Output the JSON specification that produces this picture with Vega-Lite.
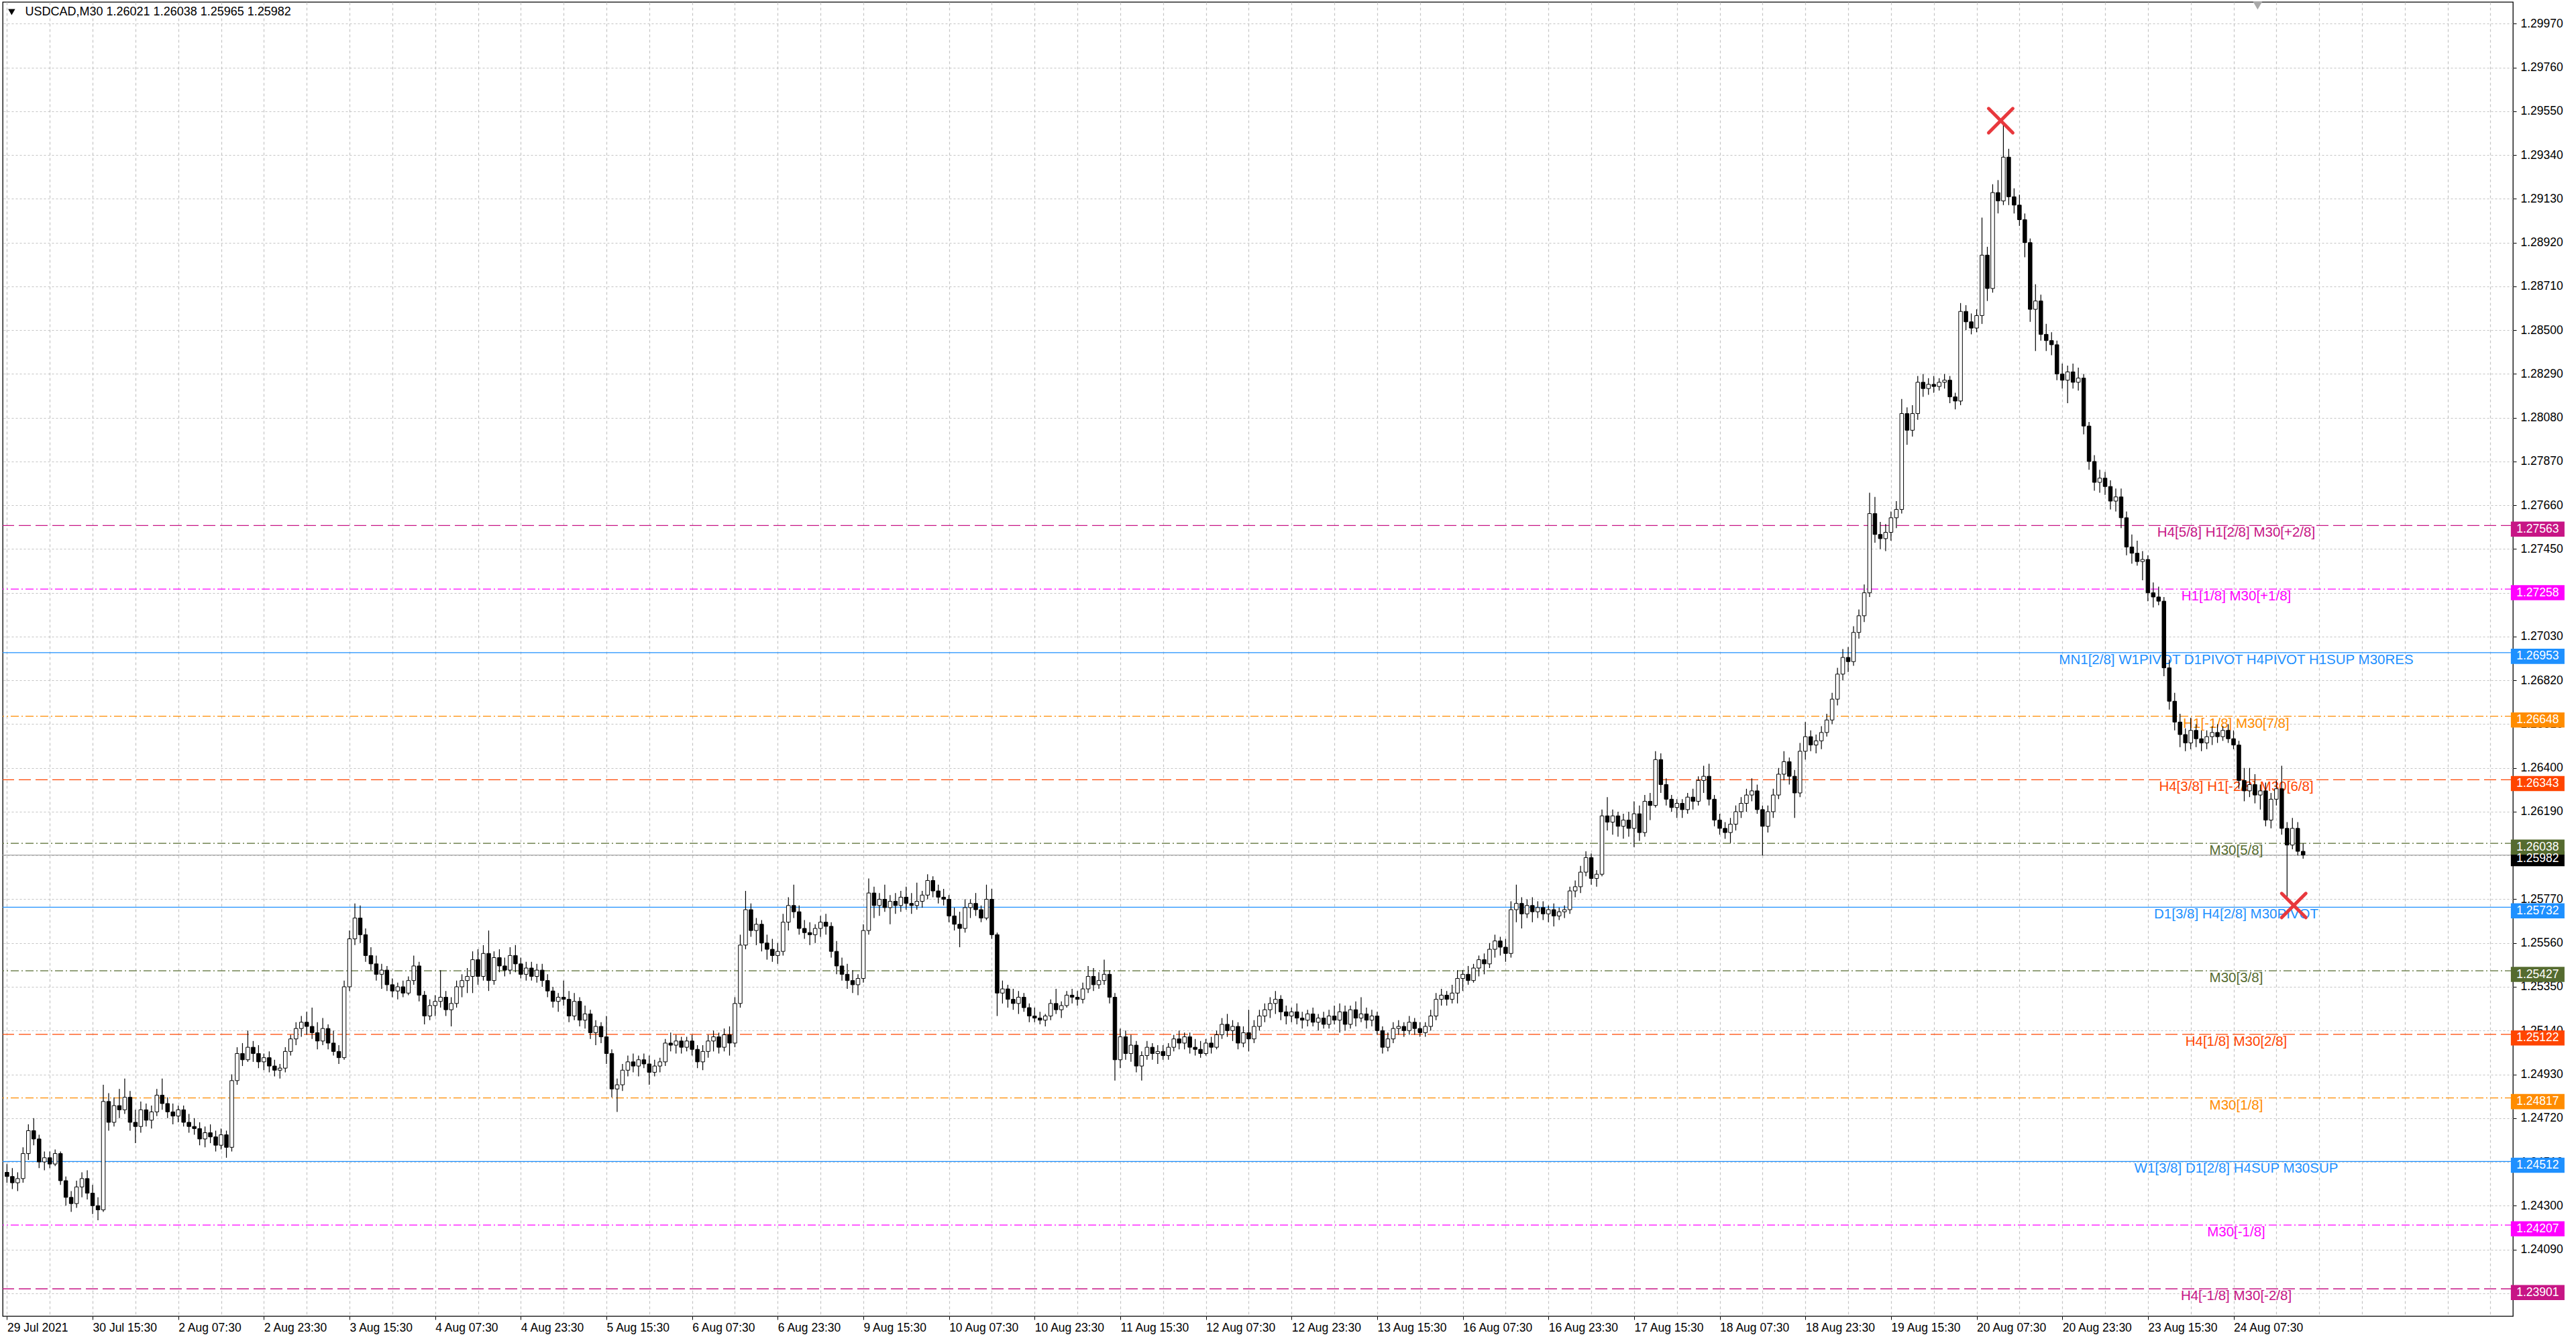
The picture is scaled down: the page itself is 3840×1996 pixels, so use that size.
{
"$schema":"https://vega.github.io/schema/vega-lite/v6.json",
"width":3742,"height":1959,
"autosize":{"type":"none"},
"padding":{"left":4,"top":3,"right":94,"bottom":34},
"background":"white",
"resolve":{"axis":{"x":"independent","y":"independent"}},
"config":{"view":{"stroke":"#000","strokeWidth":1.3},"axis":{"labelFont":"Liberation Sans","labelFontSize":17.5,"labelColor":"#000","tickColor":"#000"},"text":{"font":"Liberation Sans"}},
"datasets":{
"levels":[
{"p":1.25982,"g":"bid","t":""},
{"p":1.27563,"g":"mm2","t":"H4[5/8] H1[2/8] M30[+2/8]"},
{"p":1.27258,"g":"mm1","t":"H1[1/8] M30[+1/8]"},
{"p":1.26953,"g":"major","t":"MN1[2/8] W1PIVOT D1PIVOT H4PIVOT H1SUP M30RES"},
{"p":1.26648,"g":"m7","t":"H1[-1/8] M30[7/8]"},
{"p":1.26343,"g":"m6","t":"H4[3/8] H1[-2/8] M30[6/8]"},
{"p":1.26038,"g":"m5","t":"M30[5/8]"},
{"p":1.25732,"g":"major","t":"D1[3/8] H4[2/8] M30PIVOT"},
{"p":1.25427,"g":"m5","t":"M30[3/8]"},
{"p":1.25122,"g":"m6","t":"H4[1/8] M30[2/8]"},
{"p":1.24817,"g":"m7","t":"M30[1/8]"},
{"p":1.24512,"g":"major","t":"W1[3/8] D1[2/8] H4SUP M30SUP"},
{"p":1.24207,"g":"mm1","t":"M30[-1/8]"},
{"p":1.23901,"g":"mm2","t":"H4[-1/8] M30[-2/8]"}
],
"bars":[
{"i":0,"o":1.2446,"h":1.2450,"l":1.2441,"c":1.2444},
{"i":2,"o":1.2444,"h":1.2448,"l":1.2438,"c":1.2441},
{"i":4,"o":1.2441,"h":1.2446,"l":1.2437,"c":1.2443},
{"i":6,"o":1.2443,"h":1.2458,"l":1.2441,"c":1.2455},
{"i":8,"o":1.2455,"h":1.2469,"l":1.2452,"c":1.2466},
{"i":10,"o":1.2466,"h":1.2472,"l":1.2459,"c":1.2462},
{"i":12,"o":1.2462,"h":1.2464,"l":1.2448,"c":1.2451},
{"i":14,"o":1.2451,"h":1.2456,"l":1.2447,"c":1.2453},
{"i":16,"o":1.2453,"h":1.2456,"l":1.2448,"c":1.2450},
{"i":18,"o":1.2450,"h":1.2457,"l":1.2449,"c":1.2455},
{"i":20,"o":1.2455,"h":1.2456,"l":1.2440,"c":1.2442},
{"i":22,"o":1.2442,"h":1.2444,"l":1.2430,"c":1.2434},
{"i":24,"o":1.2434,"h":1.2437,"l":1.2427,"c":1.2431},
{"i":26,"o":1.2431,"h":1.2442,"l":1.2429,"c":1.2439},
{"i":28,"o":1.2439,"h":1.2446,"l":1.2434,"c":1.2443},
{"i":30,"o":1.2443,"h":1.2447,"l":1.2433,"c":1.2436},
{"i":32,"o":1.2436,"h":1.2440,"l":1.2426,"c":1.2430},
{"i":34,"o":1.2430,"h":1.2434,"l":1.2423,"c":1.2428},
{"i":36,"o":1.2428,"h":1.2488,"l":1.2427,"c":1.2480},
{"i":38,"o":1.2480,"h":1.2484,"l":1.2466,"c":1.2470},
{"i":40,"o":1.2470,"h":1.2482,"l":1.2468,"c":1.2478},
{"i":42,"o":1.2478,"h":1.2486,"l":1.2472,"c":1.2476},
{"i":44,"o":1.2476,"h":1.2491,"l":1.2474,"c":1.2482},
{"i":46,"o":1.2482,"h":1.2485,"l":1.2466,"c":1.2470},
{"i":48,"o":1.2470,"h":1.2476,"l":1.2460,"c":1.2468},
{"i":50,"o":1.2468,"h":1.2480,"l":1.2465,"c":1.2476},
{"i":52,"o":1.2476,"h":1.2479,"l":1.2468,"c":1.2471},
{"i":54,"o":1.2471,"h":1.2478,"l":1.2467,"c":1.2475},
{"i":56,"o":1.2475,"h":1.2486,"l":1.2473,"c":1.2483},
{"i":58,"o":1.2483,"h":1.2491,"l":1.2476,"c":1.2479},
{"i":60,"o":1.2479,"h":1.2482,"l":1.2472,"c":1.2475},
{"i":62,"o":1.2475,"h":1.2479,"l":1.2469,"c":1.2473},
{"i":64,"o":1.2473,"h":1.2478,"l":1.2470,"c":1.2476},
{"i":66,"o":1.2476,"h":1.2478,"l":1.2468,"c":1.2470},
{"i":68,"o":1.2470,"h":1.2474,"l":1.2465,"c":1.2468},
{"i":70,"o":1.2468,"h":1.2472,"l":1.2464,"c":1.2467},
{"i":72,"o":1.2467,"h":1.2470,"l":1.2459,"c":1.2462},
{"i":74,"o":1.2462,"h":1.2468,"l":1.2458,"c":1.2465},
{"i":76,"o":1.2465,"h":1.2469,"l":1.2460,"c":1.2463},
{"i":78,"o":1.2463,"h":1.2466,"l":1.2456,"c":1.2459},
{"i":80,"o":1.2459,"h":1.2467,"l":1.2457,"c":1.2464},
{"i":82,"o":1.2464,"h":1.2466,"l":1.2453,"c":1.2458},
{"i":84,"o":1.2458,"h":1.2493,"l":1.2456,"c":1.2490},
{"i":86,"o":1.2490,"h":1.2506,"l":1.2488,"c":1.2503},
{"i":88,"o":1.2503,"h":1.2508,"l":1.2497,"c":1.2500},
{"i":90,"o":1.2500,"h":1.2514,"l":1.2499,"c":1.2506},
{"i":92,"o":1.2506,"h":1.2509,"l":1.2499,"c":1.2503},
{"i":94,"o":1.2503,"h":1.2507,"l":1.2496,"c":1.2499},
{"i":96,"o":1.2499,"h":1.2503,"l":1.2495,"c":1.2501},
{"i":98,"o":1.2501,"h":1.2504,"l":1.2494,"c":1.2497},
{"i":100,"o":1.2497,"h":1.2500,"l":1.2492,"c":1.2495},
{"i":102,"o":1.2495,"h":1.2498,"l":1.2491,"c":1.2496},
{"i":104,"o":1.2496,"h":1.2506,"l":1.2494,"c":1.2504},
{"i":106,"o":1.2504,"h":1.2512,"l":1.2502,"c":1.2510},
{"i":108,"o":1.2510,"h":1.2518,"l":1.2507,"c":1.2515},
{"i":110,"o":1.2515,"h":1.2521,"l":1.2511,"c":1.2518},
{"i":112,"o":1.2518,"h":1.2523,"l":1.2512,"c":1.2516},
{"i":114,"o":1.2516,"h":1.2525,"l":1.2510,"c":1.2513},
{"i":116,"o":1.2513,"h":1.2518,"l":1.2505,"c":1.2509},
{"i":118,"o":1.2509,"h":1.2520,"l":1.2507,"c":1.2515},
{"i":120,"o":1.2515,"h":1.2517,"l":1.2505,"c":1.2508},
{"i":122,"o":1.2508,"h":1.2514,"l":1.2502,"c":1.2504},
{"i":124,"o":1.2504,"h":1.2507,"l":1.2498,"c":1.2501},
{"i":126,"o":1.2501,"h":1.2538,"l":1.2500,"c":1.2535},
{"i":128,"o":1.2535,"h":1.2562,"l":1.2533,"c":1.2558},
{"i":130,"o":1.2558,"h":1.2575,"l":1.2555,"c":1.2568},
{"i":132,"o":1.2568,"h":1.2574,"l":1.2556,"c":1.2560},
{"i":134,"o":1.2560,"h":1.2563,"l":1.2547,"c":1.2550},
{"i":136,"o":1.2550,"h":1.2554,"l":1.2543,"c":1.2546},
{"i":138,"o":1.2546,"h":1.2550,"l":1.2538,"c":1.2541},
{"i":140,"o":1.2541,"h":1.2546,"l":1.2534,"c":1.2543},
{"i":142,"o":1.2543,"h":1.2545,"l":1.2533,"c":1.2536},
{"i":144,"o":1.2536,"h":1.2539,"l":1.2530,"c":1.2533},
{"i":146,"o":1.2533,"h":1.2537,"l":1.2529,"c":1.2535},
{"i":148,"o":1.2535,"h":1.2538,"l":1.2530,"c":1.2532},
{"i":150,"o":1.2532,"h":1.2540,"l":1.2531,"c":1.2538},
{"i":152,"o":1.2538,"h":1.2550,"l":1.2536,"c":1.2545},
{"i":154,"o":1.2545,"h":1.2547,"l":1.2528,"c":1.2531},
{"i":156,"o":1.2531,"h":1.2533,"l":1.2517,"c":1.2521},
{"i":158,"o":1.2521,"h":1.2529,"l":1.2519,"c":1.2526},
{"i":160,"o":1.2526,"h":1.2531,"l":1.2521,"c":1.2528},
{"i":162,"o":1.2528,"h":1.2543,"l":1.2525,"c":1.2530},
{"i":164,"o":1.2530,"h":1.2533,"l":1.2521,"c":1.2524},
{"i":166,"o":1.2524,"h":1.2530,"l":1.2516,"c":1.2527},
{"i":168,"o":1.2527,"h":1.2538,"l":1.2525,"c":1.2535},
{"i":170,"o":1.2535,"h":1.2541,"l":1.2530,"c":1.2538},
{"i":172,"o":1.2538,"h":1.2544,"l":1.2532,"c":1.2540},
{"i":174,"o":1.2540,"h":1.2552,"l":1.2532,"c":1.2548},
{"i":176,"o":1.2548,"h":1.2553,"l":1.2536,"c":1.2540},
{"i":178,"o":1.2540,"h":1.2555,"l":1.2538,"c":1.2551},
{"i":180,"o":1.2551,"h":1.2562,"l":1.2533,"c":1.2538},
{"i":182,"o":1.2538,"h":1.2552,"l":1.2536,"c":1.2549},
{"i":184,"o":1.2549,"h":1.2553,"l":1.2542,"c":1.2545},
{"i":186,"o":1.2545,"h":1.2549,"l":1.2540,"c":1.2543},
{"i":188,"o":1.2543,"h":1.2554,"l":1.2541,"c":1.2550},
{"i":190,"o":1.2550,"h":1.2555,"l":1.2542,"c":1.2546},
{"i":192,"o":1.2546,"h":1.2549,"l":1.2539,"c":1.2541},
{"i":194,"o":1.2541,"h":1.2547,"l":1.2538,"c":1.2544},
{"i":196,"o":1.2544,"h":1.2547,"l":1.2538,"c":1.2540},
{"i":198,"o":1.2540,"h":1.2546,"l":1.2537,"c":1.2543},
{"i":200,"o":1.2543,"h":1.2546,"l":1.2535,"c":1.2538},
{"i":202,"o":1.2538,"h":1.2541,"l":1.2530,"c":1.2533},
{"i":204,"o":1.2533,"h":1.2535,"l":1.2525,"c":1.2528},
{"i":206,"o":1.2528,"h":1.2532,"l":1.2523,"c":1.2530},
{"i":208,"o":1.2530,"h":1.2538,"l":1.2526,"c":1.2529},
{"i":210,"o":1.2529,"h":1.2533,"l":1.2518,"c":1.2521},
{"i":212,"o":1.2521,"h":1.2532,"l":1.2519,"c":1.2528},
{"i":214,"o":1.2528,"h":1.2530,"l":1.2516,"c":1.2519},
{"i":216,"o":1.2519,"h":1.2526,"l":1.2515,"c":1.2522},
{"i":218,"o":1.2522,"h":1.2524,"l":1.2510,"c":1.2513},
{"i":220,"o":1.2513,"h":1.2519,"l":1.2507,"c":1.2516},
{"i":222,"o":1.2516,"h":1.2518,"l":1.2508,"c":1.2511},
{"i":224,"o":1.2511,"h":1.2521,"l":1.2498,"c":1.2503},
{"i":226,"o":1.2503,"h":1.2505,"l":1.2482,"c":1.2486},
{"i":228,"o":1.2486,"h":1.2491,"l":1.2475,"c":1.2488},
{"i":230,"o":1.2488,"h":1.2498,"l":1.2485,"c":1.2495},
{"i":232,"o":1.2495,"h":1.2502,"l":1.2492,"c":1.2499},
{"i":234,"o":1.2499,"h":1.2503,"l":1.2494,"c":1.2497},
{"i":236,"o":1.2497,"h":1.2502,"l":1.2492,"c":1.2500},
{"i":238,"o":1.2500,"h":1.2503,"l":1.2496,"c":1.2498},
{"i":240,"o":1.2498,"h":1.2502,"l":1.2488,"c":1.2494},
{"i":242,"o":1.2494,"h":1.2500,"l":1.2492,"c":1.2497},
{"i":244,"o":1.2497,"h":1.2501,"l":1.2494,"c":1.2499},
{"i":246,"o":1.2499,"h":1.2510,"l":1.2497,"c":1.2508},
{"i":248,"o":1.2508,"h":1.2513,"l":1.2504,"c":1.2507},
{"i":250,"o":1.2507,"h":1.2512,"l":1.2503,"c":1.2509},
{"i":252,"o":1.2509,"h":1.2511,"l":1.2503,"c":1.2506},
{"i":254,"o":1.2506,"h":1.2511,"l":1.2504,"c":1.2509},
{"i":256,"o":1.2509,"h":1.2512,"l":1.2502,"c":1.2505},
{"i":258,"o":1.2505,"h":1.2507,"l":1.2496,"c":1.2499},
{"i":260,"o":1.2499,"h":1.2507,"l":1.2495,"c":1.2504},
{"i":262,"o":1.2504,"h":1.2512,"l":1.2501,"c":1.2509},
{"i":264,"o":1.2509,"h":1.2514,"l":1.2504,"c":1.2511},
{"i":266,"o":1.2511,"h":1.2513,"l":1.2503,"c":1.2506},
{"i":268,"o":1.2506,"h":1.2515,"l":1.2504,"c":1.2512},
{"i":270,"o":1.2512,"h":1.2516,"l":1.2502,"c":1.2508},
{"i":272,"o":1.2508,"h":1.2530,"l":1.2506,"c":1.2527},
{"i":274,"o":1.2527,"h":1.2560,"l":1.2525,"c":1.2555},
{"i":276,"o":1.2555,"h":1.2581,"l":1.2553,"c":1.2572},
{"i":278,"o":1.2572,"h":1.2575,"l":1.2559,"c":1.2562},
{"i":280,"o":1.2562,"h":1.2568,"l":1.2555,"c":1.2565},
{"i":282,"o":1.2565,"h":1.2567,"l":1.2552,"c":1.2556},
{"i":284,"o":1.2556,"h":1.2560,"l":1.2548,"c":1.2553},
{"i":286,"o":1.2553,"h":1.2558,"l":1.2547,"c":1.2550},
{"i":288,"o":1.2550,"h":1.2556,"l":1.2546,"c":1.2552},
{"i":290,"o":1.2552,"h":1.2570,"l":1.2550,"c":1.2566},
{"i":292,"o":1.2566,"h":1.2578,"l":1.2562,"c":1.2574},
{"i":294,"o":1.2574,"h":1.2584,"l":1.2568,"c":1.2571},
{"i":296,"o":1.2571,"h":1.2574,"l":1.2560,"c":1.2563},
{"i":298,"o":1.2563,"h":1.2567,"l":1.2558,"c":1.2561},
{"i":300,"o":1.2561,"h":1.2566,"l":1.2555,"c":1.2560},
{"i":302,"o":1.2560,"h":1.2565,"l":1.2556,"c":1.2563},
{"i":304,"o":1.2563,"h":1.2569,"l":1.2559,"c":1.2566},
{"i":306,"o":1.2566,"h":1.2570,"l":1.2560,"c":1.2564},
{"i":308,"o":1.2564,"h":1.2566,"l":1.2549,"c":1.2552},
{"i":310,"o":1.2552,"h":1.2557,"l":1.2541,"c":1.2545},
{"i":312,"o":1.2545,"h":1.2549,"l":1.2538,"c":1.2541},
{"i":314,"o":1.2541,"h":1.2546,"l":1.2534,"c":1.2538},
{"i":316,"o":1.2538,"h":1.2543,"l":1.2532,"c":1.2536},
{"i":318,"o":1.2536,"h":1.2541,"l":1.2531,"c":1.2539},
{"i":320,"o":1.2539,"h":1.2565,"l":1.2537,"c":1.2562},
{"i":322,"o":1.2562,"h":1.2587,"l":1.2560,"c":1.2580},
{"i":324,"o":1.2580,"h":1.2583,"l":1.2568,"c":1.2574},
{"i":326,"o":1.2574,"h":1.2580,"l":1.2569,"c":1.2577},
{"i":328,"o":1.2577,"h":1.2584,"l":1.2571,"c":1.2573},
{"i":330,"o":1.2573,"h":1.2579,"l":1.2565,"c":1.2576},
{"i":332,"o":1.2576,"h":1.2580,"l":1.2570,"c":1.2574},
{"i":334,"o":1.2574,"h":1.2581,"l":1.2571,"c":1.2578},
{"i":336,"o":1.2578,"h":1.2583,"l":1.2572,"c":1.2575},
{"i":338,"o":1.2575,"h":1.2580,"l":1.2570,"c":1.2574},
{"i":340,"o":1.2574,"h":1.2585,"l":1.2572,"c":1.2576},
{"i":342,"o":1.2576,"h":1.2581,"l":1.2573,"c":1.2579},
{"i":344,"o":1.2579,"h":1.2589,"l":1.2577,"c":1.2586},
{"i":346,"o":1.2586,"h":1.2588,"l":1.2578,"c":1.2581},
{"i":348,"o":1.2581,"h":1.2584,"l":1.2575,"c":1.2578},
{"i":350,"o":1.2578,"h":1.2582,"l":1.2574,"c":1.2577},
{"i":352,"o":1.2577,"h":1.2579,"l":1.2566,"c":1.2569},
{"i":354,"o":1.2569,"h":1.2573,"l":1.2562,"c":1.2565},
{"i":356,"o":1.2565,"h":1.2571,"l":1.2554,"c":1.2563},
{"i":358,"o":1.2563,"h":1.2577,"l":1.2561,"c":1.2573},
{"i":360,"o":1.2573,"h":1.2577,"l":1.2568,"c":1.2575},
{"i":362,"o":1.2575,"h":1.2580,"l":1.2569,"c":1.2572},
{"i":364,"o":1.2572,"h":1.2574,"l":1.2566,"c":1.2568},
{"i":366,"o":1.2568,"h":1.2584,"l":1.2567,"c":1.2577},
{"i":368,"o":1.2577,"h":1.2582,"l":1.2558,"c":1.2560},
{"i":370,"o":1.2560,"h":1.2561,"l":1.2521,"c":1.2532},
{"i":372,"o":1.2532,"h":1.2538,"l":1.2527,"c":1.2534},
{"i":374,"o":1.2534,"h":1.2536,"l":1.2525,"c":1.2529},
{"i":376,"o":1.2529,"h":1.2534,"l":1.2524,"c":1.2527},
{"i":378,"o":1.2527,"h":1.2533,"l":1.2522,"c":1.2530},
{"i":380,"o":1.2530,"h":1.2532,"l":1.2523,"c":1.2525},
{"i":382,"o":1.2525,"h":1.2527,"l":1.2518,"c":1.2521},
{"i":384,"o":1.2521,"h":1.2525,"l":1.2518,"c":1.2520},
{"i":386,"o":1.2520,"h":1.2523,"l":1.2517,"c":1.2519},
{"i":388,"o":1.2519,"h":1.2522,"l":1.2516,"c":1.2521},
{"i":390,"o":1.2521,"h":1.2529,"l":1.2519,"c":1.2527},
{"i":392,"o":1.2527,"h":1.2534,"l":1.2522,"c":1.2524},
{"i":394,"o":1.2524,"h":1.2528,"l":1.2520,"c":1.2526},
{"i":396,"o":1.2526,"h":1.2533,"l":1.2525,"c":1.2531},
{"i":398,"o":1.2531,"h":1.2534,"l":1.2527,"c":1.2530},
{"i":400,"o":1.2530,"h":1.2533,"l":1.2526,"c":1.2529},
{"i":402,"o":1.2529,"h":1.2537,"l":1.2527,"c":1.2534},
{"i":404,"o":1.2534,"h":1.2545,"l":1.2532,"c":1.2540},
{"i":406,"o":1.2540,"h":1.2544,"l":1.2533,"c":1.2536},
{"i":408,"o":1.2536,"h":1.2542,"l":1.2534,"c":1.2538},
{"i":410,"o":1.2538,"h":1.2548,"l":1.2536,"c":1.2541},
{"i":412,"o":1.2541,"h":1.2543,"l":1.2527,"c":1.2530},
{"i":414,"o":1.2530,"h":1.2532,"l":1.2490,"c":1.2500},
{"i":416,"o":1.2500,"h":1.2515,"l":1.2496,"c":1.2511},
{"i":418,"o":1.2511,"h":1.2514,"l":1.2500,"c":1.2503},
{"i":420,"o":1.2503,"h":1.2512,"l":1.2499,"c":1.2507},
{"i":422,"o":1.2507,"h":1.2509,"l":1.2494,"c":1.2497},
{"i":424,"o":1.2497,"h":1.2504,"l":1.2490,"c":1.2502},
{"i":426,"o":1.2502,"h":1.2509,"l":1.2500,"c":1.2506},
{"i":428,"o":1.2506,"h":1.2508,"l":1.2500,"c":1.2503},
{"i":430,"o":1.2503,"h":1.2507,"l":1.2498,"c":1.2504},
{"i":432,"o":1.2504,"h":1.2507,"l":1.2500,"c":1.2502},
{"i":434,"o":1.2502,"h":1.2508,"l":1.2500,"c":1.2506},
{"i":436,"o":1.2506,"h":1.2512,"l":1.2504,"c":1.2510},
{"i":438,"o":1.2510,"h":1.2514,"l":1.2505,"c":1.2508},
{"i":440,"o":1.2508,"h":1.2513,"l":1.2505,"c":1.2511},
{"i":442,"o":1.2511,"h":1.2513,"l":1.2503,"c":1.2506},
{"i":444,"o":1.2506,"h":1.2510,"l":1.2502,"c":1.2505},
{"i":446,"o":1.2505,"h":1.2509,"l":1.2501,"c":1.2503},
{"i":448,"o":1.2503,"h":1.2510,"l":1.2502,"c":1.2508},
{"i":450,"o":1.2508,"h":1.2511,"l":1.2503,"c":1.2506},
{"i":452,"o":1.2506,"h":1.2514,"l":1.2505,"c":1.2512},
{"i":454,"o":1.2512,"h":1.2520,"l":1.2510,"c":1.2517},
{"i":456,"o":1.2517,"h":1.2522,"l":1.2511,"c":1.2514},
{"i":458,"o":1.2514,"h":1.2519,"l":1.2509,"c":1.2516},
{"i":460,"o":1.2516,"h":1.2518,"l":1.2505,"c":1.2508},
{"i":462,"o":1.2508,"h":1.2516,"l":1.2506,"c":1.2513},
{"i":464,"o":1.2513,"h":1.2524,"l":1.2504,"c":1.2510},
{"i":466,"o":1.2510,"h":1.2519,"l":1.2508,"c":1.2516},
{"i":468,"o":1.2516,"h":1.2524,"l":1.2514,"c":1.2521},
{"i":470,"o":1.2521,"h":1.2527,"l":1.2518,"c":1.2524},
{"i":472,"o":1.2524,"h":1.2530,"l":1.2520,"c":1.2527},
{"i":474,"o":1.2527,"h":1.2533,"l":1.2522,"c":1.2529},
{"i":476,"o":1.2529,"h":1.2531,"l":1.2519,"c":1.2523},
{"i":478,"o":1.2523,"h":1.2526,"l":1.2517,"c":1.2521},
{"i":480,"o":1.2521,"h":1.2525,"l":1.2518,"c":1.2523},
{"i":482,"o":1.2523,"h":1.2527,"l":1.2517,"c":1.2520},
{"i":484,"o":1.2520,"h":1.2523,"l":1.2515,"c":1.2519},
{"i":486,"o":1.2519,"h":1.2524,"l":1.2516,"c":1.2522},
{"i":488,"o":1.2522,"h":1.2525,"l":1.2516,"c":1.2518},
{"i":490,"o":1.2518,"h":1.2522,"l":1.2514,"c":1.2520},
{"i":492,"o":1.2520,"h":1.2523,"l":1.2515,"c":1.2517},
{"i":494,"o":1.2517,"h":1.2524,"l":1.2515,"c":1.2521},
{"i":496,"o":1.2521,"h":1.2526,"l":1.2517,"c":1.2519},
{"i":498,"o":1.2519,"h":1.2527,"l":1.2513,"c":1.2523},
{"i":500,"o":1.2523,"h":1.2526,"l":1.2514,"c":1.2517},
{"i":502,"o":1.2517,"h":1.2526,"l":1.2515,"c":1.2524},
{"i":504,"o":1.2524,"h":1.2528,"l":1.2516,"c":1.2520},
{"i":506,"o":1.2520,"h":1.2530,"l":1.2518,"c":1.2522},
{"i":508,"o":1.2522,"h":1.2525,"l":1.2515,"c":1.2519},
{"i":510,"o":1.2519,"h":1.2524,"l":1.2516,"c":1.2521},
{"i":512,"o":1.2521,"h":1.2523,"l":1.2512,"c":1.2514},
{"i":514,"o":1.2514,"h":1.2516,"l":1.2503,"c":1.2506},
{"i":516,"o":1.2506,"h":1.2513,"l":1.2504,"c":1.2510},
{"i":518,"o":1.2510,"h":1.2518,"l":1.2508,"c":1.2515},
{"i":520,"o":1.2515,"h":1.2519,"l":1.2512,"c":1.2516},
{"i":522,"o":1.2516,"h":1.2518,"l":1.2511,"c":1.2514},
{"i":524,"o":1.2514,"h":1.2521,"l":1.2512,"c":1.2518},
{"i":526,"o":1.2518,"h":1.2520,"l":1.2512,"c":1.2515},
{"i":528,"o":1.2515,"h":1.2518,"l":1.2511,"c":1.2513},
{"i":530,"o":1.2513,"h":1.2518,"l":1.2511,"c":1.2516},
{"i":532,"o":1.2516,"h":1.2524,"l":1.2514,"c":1.2521},
{"i":534,"o":1.2521,"h":1.2532,"l":1.2519,"c":1.2529},
{"i":536,"o":1.2529,"h":1.2534,"l":1.2526,"c":1.2531},
{"i":538,"o":1.2531,"h":1.2533,"l":1.2526,"c":1.2529},
{"i":540,"o":1.2529,"h":1.2536,"l":1.2527,"c":1.2532},
{"i":542,"o":1.2532,"h":1.2543,"l":1.2527,"c":1.2539},
{"i":544,"o":1.2539,"h":1.2543,"l":1.2533,"c":1.2541},
{"i":546,"o":1.2541,"h":1.2545,"l":1.2536,"c":1.2538},
{"i":548,"o":1.2538,"h":1.2546,"l":1.2537,"c":1.2544},
{"i":550,"o":1.2544,"h":1.2550,"l":1.2540,"c":1.2548},
{"i":552,"o":1.2548,"h":1.2551,"l":1.2541,"c":1.2546},
{"i":554,"o":1.2546,"h":1.2556,"l":1.2544,"c":1.2553},
{"i":556,"o":1.2553,"h":1.2560,"l":1.2549,"c":1.2557},
{"i":558,"o":1.2557,"h":1.2559,"l":1.2550,"c":1.2554},
{"i":560,"o":1.2554,"h":1.2558,"l":1.2547,"c":1.2551},
{"i":562,"o":1.2551,"h":1.2576,"l":1.2549,"c":1.2572},
{"i":564,"o":1.2572,"h":1.2584,"l":1.2566,"c":1.2575},
{"i":566,"o":1.2575,"h":1.2578,"l":1.2563,"c":1.2570},
{"i":568,"o":1.2570,"h":1.2577,"l":1.2568,"c":1.2574},
{"i":570,"o":1.2574,"h":1.2578,"l":1.2566,"c":1.2571},
{"i":572,"o":1.2571,"h":1.2576,"l":1.2568,"c":1.2573},
{"i":574,"o":1.2573,"h":1.2576,"l":1.2567,"c":1.2570},
{"i":576,"o":1.2570,"h":1.2574,"l":1.2566,"c":1.2572},
{"i":578,"o":1.2572,"h":1.2575,"l":1.2564,"c":1.2569},
{"i":580,"o":1.2569,"h":1.2573,"l":1.2567,"c":1.2571},
{"i":582,"o":1.2571,"h":1.2574,"l":1.2568,"c":1.2572},
{"i":584,"o":1.2572,"h":1.2583,"l":1.2570,"c":1.2581},
{"i":586,"o":1.2581,"h":1.2586,"l":1.2578,"c":1.2583},
{"i":588,"o":1.2583,"h":1.2593,"l":1.2580,"c":1.2590},
{"i":590,"o":1.2590,"h":1.2600,"l":1.2588,"c":1.2597},
{"i":592,"o":1.2597,"h":1.2599,"l":1.2584,"c":1.2587},
{"i":594,"o":1.2587,"h":1.2591,"l":1.2583,"c":1.2589},
{"i":596,"o":1.2589,"h":1.2620,"l":1.2588,"c":1.2617},
{"i":598,"o":1.2617,"h":1.2626,"l":1.2610,"c":1.2614},
{"i":600,"o":1.2614,"h":1.2620,"l":1.2608,"c":1.2617},
{"i":602,"o":1.2617,"h":1.2619,"l":1.2607,"c":1.2612},
{"i":604,"o":1.2612,"h":1.2618,"l":1.2606,"c":1.2615},
{"i":606,"o":1.2615,"h":1.2619,"l":1.2607,"c":1.2611},
{"i":608,"o":1.2611,"h":1.2624,"l":1.2602,"c":1.2618},
{"i":610,"o":1.2618,"h":1.2622,"l":1.2605,"c":1.2609},
{"i":612,"o":1.2609,"h":1.2627,"l":1.2607,"c":1.2624},
{"i":614,"o":1.2624,"h":1.2628,"l":1.2615,"c":1.2622},
{"i":616,"o":1.2622,"h":1.2648,"l":1.2621,"c":1.2644},
{"i":618,"o":1.2644,"h":1.2647,"l":1.2628,"c":1.2632},
{"i":620,"o":1.2632,"h":1.2635,"l":1.2622,"c":1.2625},
{"i":622,"o":1.2625,"h":1.2627,"l":1.2619,"c":1.2621},
{"i":624,"o":1.2621,"h":1.2625,"l":1.2616,"c":1.2623},
{"i":626,"o":1.2623,"h":1.2625,"l":1.2616,"c":1.2620},
{"i":628,"o":1.2620,"h":1.2628,"l":1.2618,"c":1.2626},
{"i":630,"o":1.2626,"h":1.2630,"l":1.2620,"c":1.2624},
{"i":632,"o":1.2624,"h":1.2636,"l":1.2622,"c":1.2634},
{"i":634,"o":1.2634,"h":1.2641,"l":1.2628,"c":1.2636},
{"i":636,"o":1.2636,"h":1.2642,"l":1.2622,"c":1.2625},
{"i":638,"o":1.2625,"h":1.2627,"l":1.2612,"c":1.2615},
{"i":640,"o":1.2615,"h":1.2618,"l":1.2608,"c":1.2611},
{"i":642,"o":1.2611,"h":1.2614,"l":1.2606,"c":1.2609},
{"i":644,"o":1.2609,"h":1.2616,"l":1.2604,"c":1.2613},
{"i":646,"o":1.2613,"h":1.2622,"l":1.2610,"c":1.2619},
{"i":648,"o":1.2619,"h":1.2626,"l":1.2616,"c":1.2623},
{"i":650,"o":1.2623,"h":1.2630,"l":1.2619,"c":1.2627},
{"i":652,"o":1.2627,"h":1.2635,"l":1.2624,"c":1.2629},
{"i":654,"o":1.2629,"h":1.2632,"l":1.2618,"c":1.2620},
{"i":656,"o":1.2620,"h":1.2622,"l":1.2598,"c":1.2612},
{"i":658,"o":1.2612,"h":1.2622,"l":1.2609,"c":1.2619},
{"i":660,"o":1.2619,"h":1.2630,"l":1.2616,"c":1.2627},
{"i":662,"o":1.2627,"h":1.2640,"l":1.2625,"c":1.2637},
{"i":664,"o":1.2637,"h":1.2648,"l":1.2634,"c":1.2643},
{"i":666,"o":1.2643,"h":1.2645,"l":1.2632,"c":1.2636},
{"i":668,"o":1.2636,"h":1.2639,"l":1.2616,"c":1.2628},
{"i":670,"o":1.2628,"h":1.2652,"l":1.2626,"c":1.2648},
{"i":672,"o":1.2648,"h":1.2662,"l":1.2644,"c":1.2655},
{"i":674,"o":1.2655,"h":1.2658,"l":1.2648,"c":1.2651},
{"i":676,"o":1.2651,"h":1.2656,"l":1.2647,"c":1.2653},
{"i":678,"o":1.2653,"h":1.2660,"l":1.2649,"c":1.2657},
{"i":680,"o":1.2657,"h":1.2666,"l":1.2655,"c":1.2663},
{"i":682,"o":1.2663,"h":1.2676,"l":1.2661,"c":1.2673},
{"i":684,"o":1.2673,"h":1.2688,"l":1.2670,"c":1.2685},
{"i":686,"o":1.2685,"h":1.2697,"l":1.2682,"c":1.2693},
{"i":688,"o":1.2693,"h":1.2698,"l":1.2686,"c":1.2691},
{"i":690,"o":1.2691,"h":1.2708,"l":1.2689,"c":1.2705},
{"i":692,"o":1.2705,"h":1.2716,"l":1.2702,"c":1.2713},
{"i":694,"o":1.2713,"h":1.2728,"l":1.2710,"c":1.2724},
{"i":696,"o":1.2724,"h":1.2772,"l":1.2722,"c":1.2762},
{"i":698,"o":1.2762,"h":1.2770,"l":1.2748,"c":1.2752},
{"i":700,"o":1.2752,"h":1.2758,"l":1.2745,"c":1.2750},
{"i":702,"o":1.2750,"h":1.2757,"l":1.2744,"c":1.2753},
{"i":704,"o":1.2753,"h":1.2763,"l":1.2749,"c":1.2760},
{"i":706,"o":1.2760,"h":1.2768,"l":1.2755,"c":1.2764},
{"i":708,"o":1.2764,"h":1.2817,"l":1.2762,"c":1.2810},
{"i":710,"o":1.2810,"h":1.2813,"l":1.2795,"c":1.2802},
{"i":712,"o":1.2802,"h":1.2814,"l":1.2799,"c":1.2810},
{"i":714,"o":1.2810,"h":1.2828,"l":1.2807,"c":1.2825},
{"i":716,"o":1.2825,"h":1.2829,"l":1.2818,"c":1.2822},
{"i":718,"o":1.2822,"h":1.2827,"l":1.2819,"c":1.2824},
{"i":720,"o":1.2824,"h":1.2828,"l":1.2820,"c":1.2823},
{"i":722,"o":1.2823,"h":1.2827,"l":1.2821,"c":1.2825},
{"i":724,"o":1.2825,"h":1.2829,"l":1.2822,"c":1.2826},
{"i":726,"o":1.2826,"h":1.2828,"l":1.2815,"c":1.2818},
{"i":728,"o":1.2818,"h":1.2820,"l":1.2812,"c":1.2816},
{"i":730,"o":1.2816,"h":1.2863,"l":1.2814,"c":1.2859},
{"i":732,"o":1.2859,"h":1.2862,"l":1.2850,"c":1.2854},
{"i":734,"o":1.2854,"h":1.2858,"l":1.2848,"c":1.2851},
{"i":736,"o":1.2851,"h":1.2860,"l":1.2849,"c":1.2857},
{"i":738,"o":1.2857,"h":1.2904,"l":1.2853,"c":1.2886},
{"i":740,"o":1.2886,"h":1.2890,"l":1.2864,"c":1.2870},
{"i":742,"o":1.2870,"h":1.2920,"l":1.2868,"c":1.2916},
{"i":744,"o":1.2916,"h":1.2922,"l":1.2906,"c":1.2912},
{"i":746,"o":1.2912,"h":1.2949,"l":1.2910,"c":1.2933},
{"i":748,"o":1.2933,"h":1.2937,"l":1.2910,"c":1.2914},
{"i":750,"o":1.2914,"h":1.2918,"l":1.2906,"c":1.2910},
{"i":752,"o":1.2910,"h":1.2915,"l":1.2900,"c":1.2903},
{"i":754,"o":1.2903,"h":1.2906,"l":1.2885,"c":1.2892},
{"i":756,"o":1.2892,"h":1.2894,"l":1.2854,"c":1.2860},
{"i":758,"o":1.2860,"h":1.2872,"l":1.2840,"c":1.2864},
{"i":760,"o":1.2864,"h":1.2867,"l":1.2845,"c":1.2848},
{"i":762,"o":1.2848,"h":1.2853,"l":1.2840,"c":1.2845},
{"i":764,"o":1.2845,"h":1.2849,"l":1.2838,"c":1.2843},
{"i":766,"o":1.2843,"h":1.2845,"l":1.2826,"c":1.2829},
{"i":768,"o":1.2829,"h":1.2834,"l":1.2822,"c":1.2826},
{"i":770,"o":1.2826,"h":1.2833,"l":1.2815,"c":1.2830},
{"i":772,"o":1.2830,"h":1.2834,"l":1.2822,"c":1.2825},
{"i":774,"o":1.2825,"h":1.2832,"l":1.2821,"c":1.2827},
{"i":776,"o":1.2827,"h":1.2829,"l":1.2800,"c":1.2804},
{"i":778,"o":1.2804,"h":1.2806,"l":1.2783,"c":1.2787},
{"i":780,"o":1.2787,"h":1.2790,"l":1.2773,"c":1.2777},
{"i":782,"o":1.2777,"h":1.2783,"l":1.2772,"c":1.2779},
{"i":784,"o":1.2779,"h":1.2782,"l":1.2771,"c":1.2775},
{"i":786,"o":1.2775,"h":1.2778,"l":1.2764,"c":1.2768},
{"i":788,"o":1.2768,"h":1.2774,"l":1.2763,"c":1.2770},
{"i":790,"o":1.2770,"h":1.2774,"l":1.2755,"c":1.2760},
{"i":792,"o":1.2760,"h":1.2763,"l":1.2742,"c":1.2746},
{"i":794,"o":1.2746,"h":1.2752,"l":1.2738,"c":1.2743},
{"i":796,"o":1.2743,"h":1.2749,"l":1.2737,"c":1.2739},
{"i":798,"o":1.2739,"h":1.2744,"l":1.2730,"c":1.2740},
{"i":800,"o":1.2740,"h":1.2742,"l":1.2720,"c":1.2724},
{"i":802,"o":1.2724,"h":1.2729,"l":1.2717,"c":1.2722},
{"i":804,"o":1.2722,"h":1.2727,"l":1.2718,"c":1.2720},
{"i":806,"o":1.2720,"h":1.2722,"l":1.2684,"c":1.2688},
{"i":808,"o":1.2688,"h":1.2692,"l":1.2668,"c":1.2672},
{"i":810,"o":1.2672,"h":1.2676,"l":1.2658,"c":1.2662},
{"i":812,"o":1.2662,"h":1.2666,"l":1.2650,"c":1.2656},
{"i":814,"o":1.2656,"h":1.2659,"l":1.2648,"c":1.2652},
{"i":816,"o":1.2652,"h":1.2664,"l":1.2649,"c":1.2658},
{"i":818,"o":1.2658,"h":1.2661,"l":1.2650,"c":1.2654},
{"i":820,"o":1.2654,"h":1.2658,"l":1.2648,"c":1.2652},
{"i":822,"o":1.2652,"h":1.2658,"l":1.2649,"c":1.2655},
{"i":824,"o":1.2655,"h":1.2660,"l":1.2651,"c":1.2657},
{"i":826,"o":1.2657,"h":1.2661,"l":1.2652,"c":1.2655},
{"i":828,"o":1.2655,"h":1.2660,"l":1.2653,"c":1.2658},
{"i":830,"o":1.2658,"h":1.2661,"l":1.2652,"c":1.2654},
{"i":832,"o":1.2654,"h":1.2658,"l":1.2649,"c":1.2651},
{"i":834,"o":1.2651,"h":1.2653,"l":1.2630,"c":1.2634},
{"i":836,"o":1.2634,"h":1.2640,"l":1.2624,"c":1.2629},
{"i":838,"o":1.2629,"h":1.2640,"l":1.2626,"c":1.2632},
{"i":840,"o":1.2632,"h":1.2637,"l":1.2623,"c":1.2627},
{"i":842,"o":1.2627,"h":1.2632,"l":1.2620,"c":1.2629},
{"i":844,"o":1.2629,"h":1.2633,"l":1.2612,"c":1.2615},
{"i":846,"o":1.2615,"h":1.2628,"l":1.2611,"c":1.2625},
{"i":848,"o":1.2625,"h":1.2634,"l":1.2622,"c":1.2630},
{"i":850,"o":1.2630,"h":1.2641,"l":1.2608,"c":1.2611},
{"i":852,"o":1.2611,"h":1.2614,"l":1.2578,"c":1.2603},
{"i":854,"o":1.2603,"h":1.2616,"l":1.2601,"c":1.2611},
{"i":856,"o":1.2611,"h":1.2614,"l":1.2598,"c":1.2600},
{"i":858,"o":1.2600,"h":1.26038,"l":1.25965,"c":1.25982}
]
},
"layer":[
{"data":{"name":"levels"},
 "mark":{"type":"rule","strokeWidth":1.3},
 "encoding":{
  "y":{"field":"p","type":"quantitative","scale":{"domain":[1.237699,1.300742],"nice":false,"zero":false},
   "axis":{"orient":"right","title":null,"values":[1.2388,1.2409,1.2430,1.2451,1.2472,1.2493,1.2514,1.2535,1.2556,1.2577,1.2598,1.2619,1.2640,1.2661,1.2682,1.2703,1.2724,1.2745,1.2766,1.2787,1.2808,1.2829,1.2850,1.2871,1.2892,1.2913,1.2934,1.2955,1.2976,1.2997],
    "labelExpr":"datum.value < 1.2395 ? '' : format(datum.value, '.5f')","labelOverlap":false,"labelAlign":"left","labelBaseline":"middle","labelPadding":6,"tickSize":5,"tickWidth":1,"domain":false,
    "grid":true,"gridColor":"#c4c4c4","gridDash":[3,3],"gridWidth":1.2}},
  "stroke":{"field":"g","type":"nominal","legend":null,"scale":{"domain":["bid","mm2","mm1","major","m7","m6","m5"],"range":["#a8a8a8","#C71585","#FF00FF","#1E90FF","#FF8C00","#FF4500","#556B2F"]}},
  "strokeDash":{"field":"g","type":"nominal","legend":null,"scale":{"domain":["bid","mm2","mm1","major","m7","m6","m5"],"range":[[1,0],[18,7],[12,4,2,4],[1,0],[12,4,2,4],[18,7],[12,4,2,4]]}}
 }},
{"data":{"name":"levels"},
 "mark":{"type":"text","font":"Liberation Sans","fontSize":20.5,"align":"center","baseline":"middle","dy":11},
 "encoding":{
  "x":{"datum":833,"type":"quantitative","scale":{"domain":[-0.35,935.15],"nice":false,"zero":false},
   "axis":{"title":null,"orient":"bottom","values":[0,16,32,48,64,80,96,112,128,144,160,176,192,208,224,240,256,272,288,304,320,336,352,368,384,400,416,432,448,464,480,496,512,528,544,560,576,592,608,624,640,656,672,688,704,720,736,752,768,784,800,816,832,848,864,880,896,912,928],
    "labelExpr":"datum.value % 32 == 0 && datum.value <= 832 ? ['29 Jul 2021','30 Jul 15:30','2 Aug 07:30','2 Aug 23:30','3 Aug 15:30','4 Aug 07:30','4 Aug 23:30','5 Aug 15:30','6 Aug 07:30','6 Aug 23:30','9 Aug 15:30','10 Aug 07:30','10 Aug 23:30','11 Aug 15:30','12 Aug 07:30','12 Aug 23:30','13 Aug 15:30','16 Aug 07:30','16 Aug 23:30','17 Aug 15:30','18 Aug 07:30','18 Aug 23:30','19 Aug 15:30','20 Aug 07:30','20 Aug 23:30','23 Aug 15:30','24 Aug 07:30'][datum.value / 32] : ''",
    "labelAlign":"left","labelBaseline":"top","labelFlush":false,"labelOverlap":false,"labelPadding":3,"tickSize":5,"tickWidth":1,
    "tickOpacity":{"condition":{"test":"datum.value % 32 == 0 && datum.value <= 832","value":1},"value":0},
    "domain":false,"grid":true,"gridColor":"#c4c4c4","gridDash":[4,4],"gridWidth":1.2}},
  "y":{"field":"p","type":"quantitative","axis":null},
  "text":{"field":"t"},
  "fill":{"field":"g","type":"nominal","legend":null,"scale":{"domain":["bid","mm2","mm1","major","m7","m6","m5"],"range":["#000000","#C71585","#FF00FF","#1E90FF","#FF8C00","#FF4500","#556B2F"]}}
 }},
{"data":{"name":"bars"},
 "mark":{"type":"rule","color":"#000","strokeWidth":1.2},
 "encoding":{
  "x":{"field":"i","type":"quantitative","axis":null},
  "y":{"field":"l","type":"quantitative","axis":null},
  "y2":{"field":"h"}
 }},
{"data":{"name":"bars"},
 "mark":{"type":"bar","width":5.5,"stroke":"#000","strokeWidth":1,"orient":"vertical"},
 "encoding":{
  "x":{"field":"i","type":"quantitative","axis":null},
  "y":{"field":"o","type":"quantitative","axis":null},
  "y2":{"field":"c"},
  "fill":{"condition":{"test":"datum.c >= datum.o","value":"#ffffff"},"value":"#000000"}
 }},
{"data":{"name":"levels"},
 "mark":{"type":"point","shape":"M-1,-0.144H1V0.419H-1Z","size":6400,"filled":true,"opacity":1,"strokeWidth":0},
 "encoding":{
  "x":{"datum":945.65,"type":"quantitative","axis":null},
  "y":{"field":"p","type":"quantitative","axis":null},
  "fill":{"field":"g","type":"nominal","legend":null}
 }},
{"data":{"name":"levels"},
 "mark":{"type":"text","font":"Liberation Sans","fontSize":17.5,"align":"center","baseline":"middle","dy":5.5,"color":"#ffffff"},
 "encoding":{
  "x":{"datum":945.65,"type":"quantitative","axis":null},
  "y":{"field":"p","type":"quantitative","axis":null},
  "text":{"field":"p","type":"quantitative","format":".5f"}
 }},
{"data":{"values":[{"i":745,"p":1.29505},{"i":854.5,"p":1.2574}]},
 "mark":{"type":"point","shape":"M-1,-1L1,1M1,-1L-1,1","size":1300,"filled":false,"opacity":1,"stroke":"#E8383D","strokeWidth":5,"strokeCap":"round"},
 "encoding":{
  "x":{"field":"i","type":"quantitative","axis":null},
  "y":{"field":"p","type":"quantitative","axis":null}
 }},
{"data":{"values":[{"s":"USDCAD,M30  1.26021 1.26038 1.25965 1.25982"}]},
 "mark":{"type":"text","font":"Liberation Sans","fontSize":18,"align":"left","baseline":"middle","color":"#000"},
 "encoding":{
  "x":{"datum":6.8,"type":"quantitative","axis":null},
  "y":{"datum":1.30026,"type":"quantitative","axis":null},
  "text":{"field":"s"}
 }},
{"data":{"values":[{"k":"menu"}]},
 "mark":{"type":"point","shape":"triangle-down","size":110,"filled":true,"opacity":1,"color":"#000"},
 "encoding":{
  "x":{"datum":1.75,"type":"quantitative","axis":null},
  "y":{"datum":1.30026,"type":"quantitative","axis":null}
 }},
{"data":{"values":[{"k":"shift"}]},
 "mark":{"type":"point","shape":"triangle-down","size":200,"filled":true,"opacity":1,"color":"#a9a9a9"},
 "encoding":{
  "x":{"datum":841,"type":"quantitative","axis":null},
  "y":{"datum":1.30058,"type":"quantitative","axis":null}
 }}
]
}
